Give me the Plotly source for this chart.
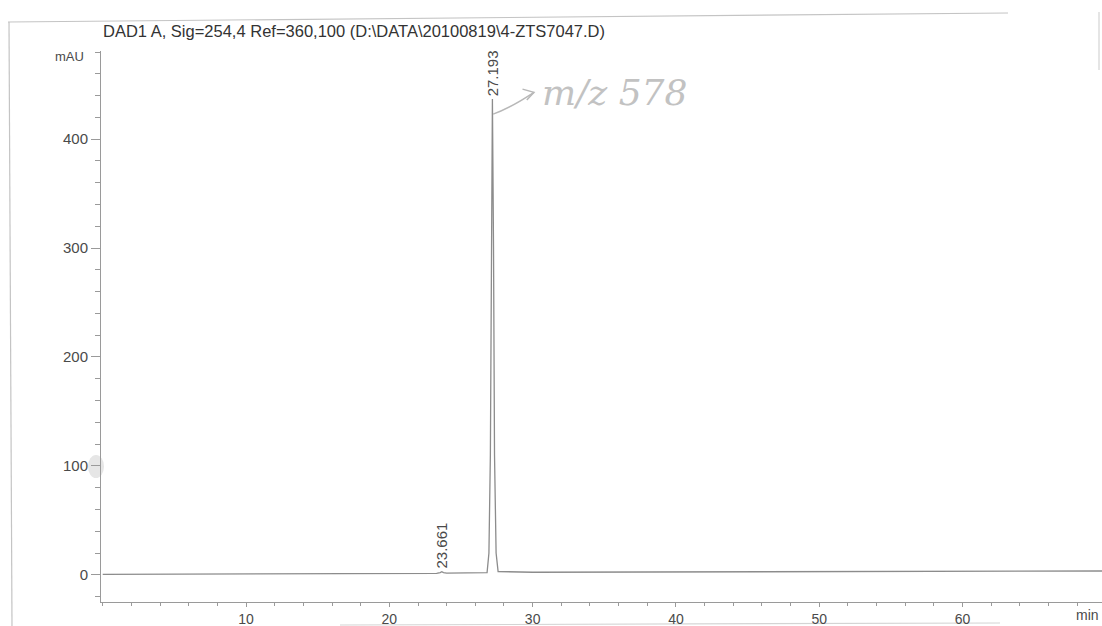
import plotly.graph_objects as go

# DAD1 A chromatogram, 254 nm
time_min = [0.0, 5.0, 10.0, 15.0, 20.0, 23.3, 23.55, 23.661, 23.78, 24.0,
            26.82, 26.95, 27.05, 27.12, 27.193, 27.27, 27.34, 27.45, 27.59,
            30.0, 40.0, 50.0, 60.0, 70.0]
signal_mau = [0.4, 0.5, 0.6, 0.8, 1.0, 1.3, 2.0, 2.8, 2.0, 1.6,
              2.0, 20.0, 110.0, 300.0, 437.0, 300.0, 110.0, 20.0, 3.0,
              2.3, 2.6, 3.2, 3.4, 3.5]

peak_rt = [23.661, 27.193]
peak_height = [2.8, 437.0]

title_text = "DAD1 A, Sig=254,4 Ref=360,100 (D:\\DATA\\20100819\\4-ZTS7047.D)"
y_ticks = [0, 100, 200, 300, 400]
x_ticks = [10, 20, 30, 40, 50, 60]

FONT = "Liberation Sans, Arial, sans-serif"
INK = "#4a4a4a"
AXIS = "#9a9a9a"

W, H = 1102, 626
L, R, T, B = 101, 0, 51, 24
pw, ph = W - L - R, H - T - B


def px_to_paper(x, y):
    return (x - L) / pw, (H - B - y) / ph


fig = go.Figure()
fig.add_trace(go.Scatter(
    x=time_min, y=signal_mau, mode="lines",
    line=dict(color="#8c8c8c", width=1.3),
    hoverinfo="x+y", showlegend=False,
))

# retention-time labels above each peak
for rt, h in zip(peak_rt, peak_height):
    fig.add_annotation(
        x=rt, y=h, xref="x", yref="y", text=f"{rt:.3f}",
        textangle=-90, showarrow=False, xanchor="center", yanchor="bottom",
        yshift=1, font=dict(family=FONT, size=15, color=INK),
    )

# handwritten note next to the main peak
fig.add_shape(
    type="path", xref="x", yref="y",
    path=f"M {peak_rt[1] + 0.05},{peak_height[1] - 14} "
         f"Q {peak_rt[1] + 1.3},{peak_height[1] - 8} {peak_rt[1] + 2.9},{peak_height[1] + 6}",
    line=dict(color="#b8b8b8", width=1.5),
)
fig.add_shape(
    type="path", xref="x", yref="y",
    path=f"M {peak_rt[1] + 2.1},{peak_height[1] + 9} L {peak_rt[1] + 2.9},{peak_height[1] + 6} "
         f"L {peak_rt[1] + 2.4},{peak_height[1] - 1}",
    line=dict(color="#b8b8b8", width=1.5),
)
fig.add_annotation(
    x=peak_rt[1] + 3.3, y=peak_height[1] + 6, xref="x", yref="y",
    text="<i>m/z 578</i>", showarrow=False, xanchor="left", yanchor="middle",
    font=dict(family="DejaVu Serif, serif", size=36, color="#c2c2c2"),
)

# axis captions
mx, my = px_to_paper(69, 57)
fig.add_annotation(
    x=mx, y=my, xref="paper", yref="paper", text="mAU", showarrow=False,
    xanchor="center", yanchor="middle",
    font=dict(family=FONT, size=13, color=INK),
)
nx, ny = px_to_paper(1101, 615)
fig.add_annotation(
    x=nx, y=ny, xref="paper", yref="paper", text="min", showarrow=False,
    xanchor="right", yanchor="middle",
    font=dict(family=FONT, size=14, color=INK),
)

# page frame lines
frame = [
    dict(x0=8, y0=22, x1=1008, y1=13, c="#c4c4c4"),
    dict(x0=9, y0=22, x1=12, y1=626, c="#c4c4c4"),
    dict(x0=1099, y0=12, x1=1099, y1=70, c="#d4d4d4"),
    dict(x0=340, y0=625, x1=1000, y1=623, c="#d4d4d4"),
]
for f in frame:
    x0, y0 = px_to_paper(f["x0"], f["y0"])
    x1, y1 = px_to_paper(f["x1"], f["y1"])
    fig.add_shape(type="line", xref="paper", yref="paper", x0=x0, y0=y0, x1=x1, y1=y1,
                  line=dict(color=f["c"], width=1.2), layer="below")

# smudge beside the y axis
cx0, cy0 = px_to_paper(88, 455)
cx1, cy1 = px_to_paper(104, 478)
fig.add_shape(type="circle", xref="paper", yref="paper", x0=cx0, y0=cy0, x1=cx1, y1=cy1,
              fillcolor="#e6e6e6", line=dict(width=0), layer="below")

fig.update_layout(
    width=W, height=H,
    margin=dict(l=L, r=R, t=T, b=B),
    paper_bgcolor="white", plot_bgcolor="white",
    title=dict(text=title_text, x=103 / W, xanchor="left", y=1 - 31 / H,
               yanchor="middle", font=dict(family=FONT, size=16.5, color="#333333")),
    xaxis=dict(
        range=[-0.12, 69.73], tickvals=x_ticks, ticks="outside", ticklen=4,
        tickcolor=AXIS, showline=True, linecolor=AXIS, linewidth=1,
        showgrid=False, zeroline=False, ticklabelstandoff=0, automargin=False,
        minor=dict(dtick=2, ticks="outside", ticklen=3, tickcolor=AXIS),
        tickfont=dict(family=FONT, size=14, color=INK),
    ),
    yaxis=dict(
        range=[-25, 481], tickvals=y_ticks, ticks="outside", ticklen=9,
        tickcolor=AXIS, showline=True, linecolor=AXIS, linewidth=1,
        showgrid=False, zeroline=False, automargin=False,
        minor=dict(dtick=20, tick0=0, ticks="outside", ticklen=5, tickcolor=AXIS),
        tickfont=dict(family=FONT, size=15, color=INK),
    ),
)

fig.write_html("out.html")
